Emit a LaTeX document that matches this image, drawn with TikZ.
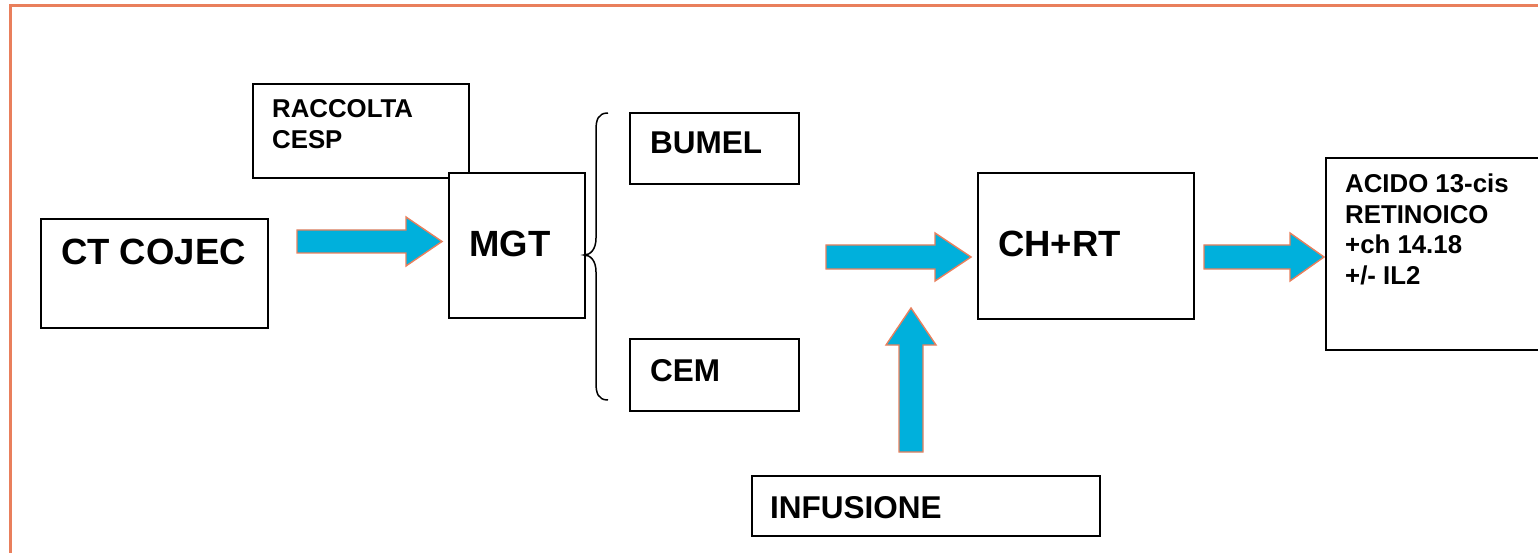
\documentclass[tikz,border=0pt]{standalone}
\usepackage{fontspec}
\setmainfont{Liberation Sans}
\definecolor{frameorange}{RGB}{233,127,92}
\definecolor{arrowcyan}{RGB}{0,176,220}
\begin{document}
\begin{tikzpicture}[x=1pt,y=-1pt,
  box/.style={draw=black,line width=1.9pt,fill=white,inner sep=0pt,anchor=north west},
  lbl/.style={anchor=base west,inner sep=0pt,font=\bfseries},
  big/.style={lbl,font=\fontsize{36.5}{40}\selectfont\bfseries},
  mid/.style={lbl,font=\fontsize{31.5}{36}\selectfont\bfseries},
  small/.style={lbl,font=\fontsize{25.8}{30}\selectfont\bfseries},
  blockarrow/.style={fill=arrowcyan,draw=frameorange,line width=1.4pt,line join=miter}]
\useasboundingbox (0,0) rectangle (1538,553);
% outer frame
\draw[frameorange,line width=3pt] (10,6) rectangle (1570,580);

% boxes
\node[box,minimum width=216,minimum height=94] (raccolta) at (252,83) {};
\node[box,minimum width=136,minimum height=145] (mgt) at (448,172) {};
\node[box,minimum width=227,minimum height=109] (cojec) at (40,218) {};
\node[box,minimum width=169,minimum height=71] (bumel) at (629,112) {};
\node[box,minimum width=169,minimum height=72] (cem) at (629,338) {};
\node[box,minimum width=216,minimum height=146] (chrt) at (977,172) {};
\node[box,minimum width=348,minimum height=60] (infusione) at (751,475) {};
\node[box,minimum width=260,minimum height=192] (acido) at (1325,157) {};

% box texts
\node[small] (traccolta) at (272,118) {RACCOLTA};
\node[small] (tcesp) at (272,149) {CESP};
\node[big] (tmgt) at (469,257) {MGT};
\node[big] (tcojec) at (61,265) {CT COJEC};
\node[mid] (tbumel) at (650,154) {BUMEL};
\node[mid] (tcem) at (650,381) {CEM};
\node[big] (tchrt) at (998,257) {CH+RT};
\node[mid] (tinfusione) at (770,518) {INFUSIONE};
\node[small] (tacido1) at (1345,193) {ACIDO 13-cis};
\node[small] (tacido2) at (1345,224) {RETINOICO};
\node[small] (tacido3) at (1345,254) {+ch 14.18};
\node[small] (tacido4) at (1345,284) {+/- IL2};

% brace grouping the two regimens
\coordinate (bracetop) at (608,113);
\coordinate (bracetip) at (584,255);
\coordinate (bracebot) at (608,400);
\draw[line width=1.5pt] (bracetop) .. controls (598,113) and (596,120) .. (596,130)
  -- (596,238) .. controls (596,250) and (590,255) .. (bracetip)
  .. controls (590,255) and (596,260) .. (596,272)
  -- (596,383) .. controls (596,393) and (598,400) .. (bracebot);

% block arrows
\filldraw[blockarrow] (297,230) -- (406,230) -- (406,217) -- (442,241.5) -- (406,266)
  -- (406,253) -- (297,253) -- cycle;
\filldraw[blockarrow] (826,245) -- (935,245) -- (935,233) -- (971,257) -- (935,281)
  -- (935,269) -- (826,269) -- cycle;
\filldraw[blockarrow] (1204,245) -- (1290,245) -- (1290,233) -- (1324,257) -- (1290,281)
  -- (1290,269) -- (1204,269) -- cycle;
\filldraw[blockarrow] (899,452) -- (899,345) -- (886,345) -- (911,308) -- (936,345)
  -- (923,345) -- (923,452) -- cycle;
\end{tikzpicture}
\end{document}
